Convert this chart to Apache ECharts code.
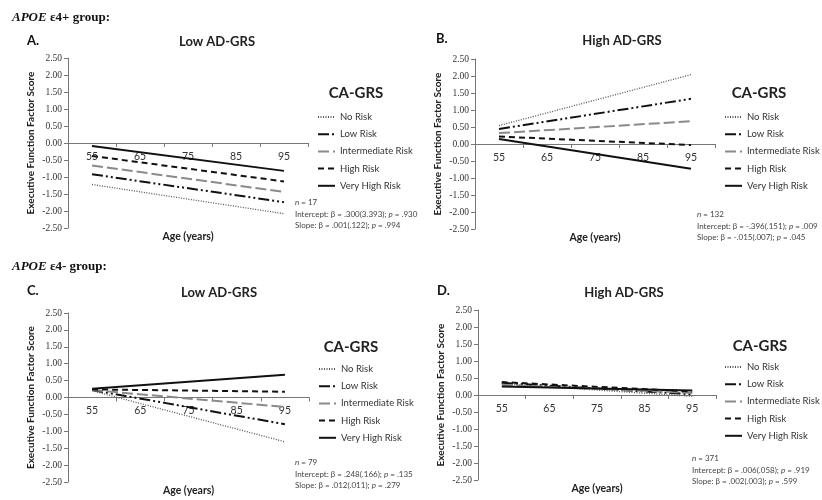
<!DOCTYPE html>
<html><head><meta charset="utf-8">
<script src="https://cdn.jsdelivr.net/npm/echarts@6/dist/echarts.min.js"></script>
<style>html,body{margin:0;padding:0;background:#fff}#c{width:822px;height:500px}</style>
</head><body><div id="c"></div>
<script>
// ---- data ----
const riskGroups = ['No Risk', 'Low Risk', 'Intermediate Risk', 'High Risk', 'Very High Risk'];
const ageTicks = ['55', '65', '75', '85', '95'];
const lineAges = ['55', '95'];
// values at age 55 and age 95, in riskGroups order
const panelA_start = [-1.22, -0.92, -0.66, -0.38, -0.09];
const panelA_end   = [-2.08, -1.74, -1.44, -1.13, -0.82];
const panelB_start = [0.54, 0.44, 0.32, 0.22, 0.15];
const panelB_end   = [2.04, 1.33, 0.67, -0.03, -0.73];
const panelC_start = [0.20, 0.22, 0.22, 0.24, 0.26];
const panelC_end   = [-1.31, -0.79, -0.28, 0.17, 0.67];
const panelD_start = [0.33, 0.36, 0.30, 0.38, 0.25];
const panelD_end   = [-0.04, 0.02, 0.06, 0.10, 0.13];
const panelTitles = ['Low AD-GRS', 'High AD-GRS', 'Low AD-GRS', 'High AD-GRS'];
const panelLetters = ['A.', 'B.', 'C.', 'D.'];
const panelN = ['17', '132', '79', '371'];
const panelIntercept = ['.300(3.393)', '-.396(.151)', '.248(.166)', '.006(.058)'];
const panelInterceptP = ['.930', '.009', '.135', '.919'];
const panelSlope = ['.001(.122)', '-.015(.007)', '.012(.011)', '.002(.003)'];
const panelSlopeP = ['.994', '.045', '.279', '.599'];

// ---- layout / style ----
const SANS = 'Lato';
const grids = [
  {left: 68, top: 58, width: 240, height: 170},
  {left: 475, top: 59, width: 240, height: 170},
  {left: 68, top: 313, width: 241, height: 169},
  {left: 478, top: 310, width: 238, height: 170}
].map(g => Object.assign({outerBoundsMode: 'none', containLabel: false}, g));
const lineStyles = [
  {color: '#555', width: 1.3, type: [1, 1.5]},
  {color: '#111', width: 2, type: [11, 3, 2, 3, 2, 3]},
  {color: '#8a8a8a', width: 2, type: [11, 4]},
  {color: '#111', width: 2, type: [6, 4]},
  {color: '#111', width: 2, type: 'solid'}
];
const starts = [panelA_start, panelB_start, panelC_start, panelD_start];
const ends = [panelA_end, panelB_end, panelC_end, panelD_end];
const legendPos = [
  {left: 317, top: 111}, {left: 724, top: 111}, {left: 318, top: 363}, {left: 724, top: 361}
];
const caPos = [[356, 93], [759, 93], [351, 347], [760, 346]];
const titlePos = [[217, 42], [622, 41], [219, 293], [624, 293]];
const letterPos = [[27, 41], [436, 39], [27, 291], [437, 291]];
const annotPos = [[295, 214], [697, 226], [295, 474], [692, 470]];

const xAxes = [], yAxes = [], series = [], legends = [], graphics = [];
grids.forEach((g, p) => {
  xAxes.push({
    type: 'category', gridIndex: p, data: ageTicks, boundaryGap: true,
    position: 'bottom', offset: -g.height / 2,
    axisLine: {onZero: false, lineStyle: {color: '#777', width: 1}},
    axisTick: {show: true, length: 4, lineStyle: {color: '#777'}},
    axisLabel: {fontFamily: SANS, fontSize: 10.5, color: '#333', margin: 8},
    name: 'Age (years)', nameLocation: 'middle', nameGap: 88,
    nameTextStyle: {fontFamily: SANS, fontWeight: 'bold', fontSize: 10.5, color: '#222'},
    splitLine: {show: false}
  });
  yAxes.push({
    type: 'value', gridIndex: p, min: -2.5, max: 2.5, interval: 0.5,
    axisLine: {show: true, lineStyle: {color: '#777', width: 1}},
    axisTick: {show: true, length: 4, lineStyle: {color: '#777'}},
    axisLabel: {fontFamily: 'Liberation Serif', fontSize: 9.5, color: '#333', margin: 6,
      formatter: v => v.toFixed(2)},
    splitLine: {show: false},
    name: 'Executive Function Factor Score', nameLocation: 'middle', nameGap: 32,
    nameTextStyle: {fontFamily: SANS, fontWeight: 'bold', fontSize: 10, color: '#222'}
  });
  riskGroups.forEach((r, i) => {
    series.push({
      type: 'line', name: r, xAxisIndex: p, yAxisIndex: p, symbol: 'none', silent: true,
      animation: false, z: 2 + i, color: lineStyles[i].color,
      itemStyle: {color: lineStyles[i].color},
      data: [[lineAges[0], starts[p][i]], [lineAges[1], ends[p][i]]],
      lineStyle: lineStyles[i]
    });
  });
  legends.push({
    data: riskGroups, orient: 'vertical', left: legendPos[p].left, top: legendPos[p].top,
    padding: 0, itemWidth: 17, itemHeight: 12, itemGap: 5.2, selectedMode: false,
    itemStyle: {color: 'rgba(0,0,0,0)', borderColor: 'rgba(0,0,0,0)', borderWidth: 0, opacity: 0},
    textStyle: {fontFamily: SANS, fontSize: 9.5, color: '#333', lineHeight: 12}
  });
  graphics.push({type: 'text', x: caPos[p][0], y: caPos[p][1],
    style: {text: 'CA-GRS', font: 'bold 15px ' + SANS, fill: '#222', align: 'center', verticalAlign: 'middle'}});
  graphics.push({type: 'text', x: titlePos[p][0], y: titlePos[p][1],
    style: {text: panelTitles[p], font: 'bold 13px ' + SANS, fill: '#222', align: 'center', verticalAlign: 'middle'}});
  graphics.push({type: 'text', x: letterPos[p][0], y: letterPos[p][1],
    style: {text: panelLetters[p], font: 'bold 13px ' + SANS, fill: '#111', align: 'left', verticalAlign: 'middle'}});
  graphics.push({type: 'text', x: annotPos[p][0], y: annotPos[p][1],
    style: {
      text: '{i|n} = ' + panelN[p] + '\nIntercept: β = ' + panelIntercept[p] + '; {i|p} = ' + panelInterceptP[p] +
            '\nSlope: β = ' + panelSlope[p] + '; {i|p} = ' + panelSlopeP[p],
      font: '8px ' + SANS, fill: '#444', lineHeight: 11.5, align: 'left', verticalAlign: 'middle',
      rich: {i: {fontStyle: 'italic', fontSize: 8, fontFamily: SANS, fill: '#444'}}
    }});
});
graphics.push({type: 'text', x: 12, y: 18,
  style: {text: '{i|APOE} ε4+ group:', font: 'bold 13px "Liberation Serif"', fill: '#111', verticalAlign: 'middle',
    rich: {i: {fontStyle: 'italic', fontWeight: 'bold', fontSize: 13, fontFamily: 'Liberation Serif'}}}});
graphics.push({type: 'text', x: 12, y: 267,
  style: {text: '{i|APOE} ε4- group:', font: 'bold 13px "Liberation Serif"', fill: '#111', verticalAlign: 'middle',
    rich: {i: {fontStyle: 'italic', fontWeight: 'bold', fontSize: 13, fontFamily: 'Liberation Serif'}}}});

const chart = echarts.init(document.getElementById('c'));
chart.setOption({
  animation: false,
  backgroundColor: '#fff',
  grid: grids, xAxis: xAxes, yAxis: yAxes, series: series, legend: legends, graphic: graphics
});
</script></body></html>
